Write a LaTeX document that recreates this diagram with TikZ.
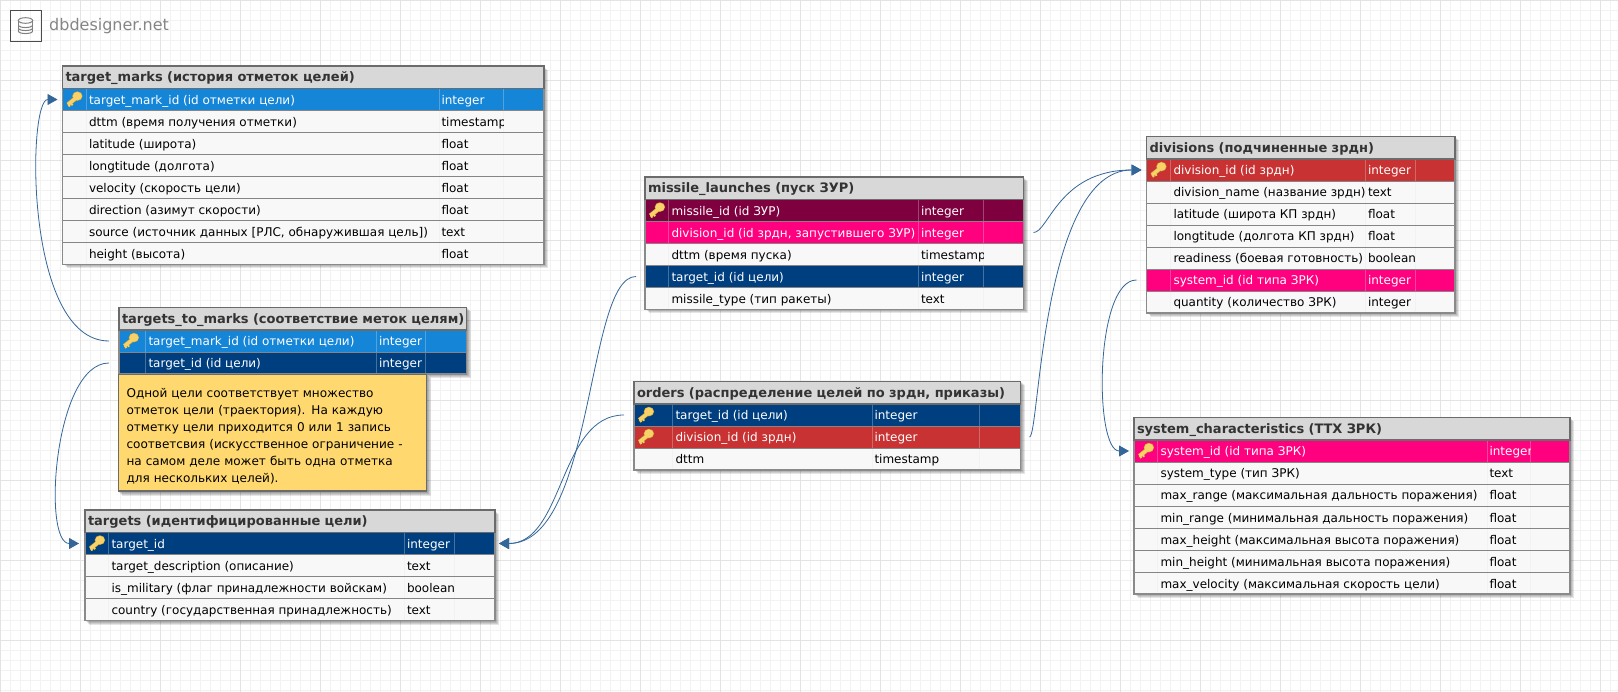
\documentclass[tikz,border=0pt]{standalone}
\usepackage{fontspec}
\setmainfont{DejaVu Sans}
\usepackage{tikz}
\usetikzlibrary{arrows.meta,backgrounds}

\definecolor{markblue}{HTML}{1585D8}
\definecolor{targetblue}{HTML}{003F7F}
\definecolor{divred}{HTML}{C83232}
\definecolor{syspink}{HTML}{FF007F}
\definecolor{launchwine}{HTML}{7F003F}
\definecolor{rowplain}{HTML}{F8F8F8}
\definecolor{headgray}{HTML}{D8D8D8}
\definecolor{framegray}{HTML}{8A8A8A}
\definecolor{notegold}{HTML}{FFD970}
\definecolor{linkblue}{HTML}{336699}
\definecolor{keygold}{HTML}{F6D268}
\definecolor{keyedge}{HTML}{C9A038}

\tikzset{
  headbox/.style={fill=headgray,text=black!80,inner xsep=3pt,inner ysep=0pt,outer sep=0pt,
    minimum height=22.5pt,text height=10.5pt,text depth=1.5pt,align=left,
    font=\fontsize{13}{15}\selectfont\bfseries},
  rowbox/.style={inner sep=0pt,outer sep=0pt,minimum height=22pt,anchor=north west},
  celltext/.style={inner sep=0pt,outer sep=0pt,anchor=base west,font=\fontsize{12}{15}\selectfont},
  rowline/.style={draw=black!48,line width=0.8pt},
  tableframe/.style={draw=framegray,line width=1.2pt},
  headframe/.style={draw=black!58,line width=1.4pt},
  softshadow/.style={fill=black,opacity=.10},
  notebox/.style={fill=notegold,draw=black!58,line width=1.1pt,anchor=north west,align=left,
    inner xsep=8.5pt,inner ysep=5pt,text width=291pt,minimum height=116.5pt,
    font=\fontsize{12.05}{17}\selectfont},
  reflink/.style={draw=linkblue,line width=0.8pt,-{Triangle[length=10pt,width=11pt,fill=linkblue]}},
  keyicon/.pic={
    \draw[keyedge,line width=4.6pt] (2,-1.5) -- (-6,5);
    \draw[keyedge,line width=2.2pt] (-3.2,3) -- (-1.5,5.8);
    \draw[keyedge,line width=2.2pt] (-5.8,4.6) -- (-4.2,7);
    \fill[keyedge] (3.4,-3.4) ellipse (5.2 and 4.8);
    \draw[keygold,line width=3.4pt] (2,-1.5) -- (-6,5);
    \draw[keygold,line width=1.4pt] (-3.2,3) -- (-1.5,5.8);
    \draw[keygold,line width=1.4pt] (-5.8,4.6) -- (-4.2,7);
    \fill[keygold] (3.4,-3.4) ellipse (4.6 and 4.2);
  },
}

% name, left, header bottom, right, key column end, type column start, type column end, title, rows
\newcommand{\dbtable}[9]{
  \pgfmathsetmacro\headw{#4-#2-6}
  \pgfmathsetmacro\rowsw{#4-#2}
  \node[headbox,anchor=south west,text width=\headw pt] (#1) at (#2,#3) {\mbox{#8}};
  \foreach \rowfill/\rowtxt/\rowkey/\rowname/\rowtype [count=\n] in {#9}{
    \pgfmathsetmacro\rowy{#3+22*(\n-1)}
    \pgfmathsetmacro\rowb{#3+22*\n}
    \pgfmathsetmacro\baseY{#3+22*(\n-1)+16}
    \pgfmathsetmacro\keyx{#2+11.5}
    \pgfmathsetmacro\keyy{#3+22*(\n-1)+11}
    \node[rowbox,fill=\rowfill,minimum width=\rowsw pt] (#1\n) at (#2,\rowy) {};
    \draw[draw=\rowfill!72!white!97!black,line width=0.8pt] (#5,\rowy) -- (#5,\rowb);
    \draw[draw=\rowfill!72!white!97!black,line width=0.8pt] (#6,\rowy) -- (#6,\rowb);
    \draw[draw=\rowfill!72!white!97!black,line width=0.8pt] (#7,\rowy) -- (#7,\rowb);
    \draw[rowline] (#1\n.north west) -- (#1\n.north east);
    \ifnum\rowkey=1 \pic at (\keyx,\keyy) {keyicon}; \fi
    \node[celltext,text=\rowtxt] (#1\n name) at (#5+3,\baseY) {\rowname};
    \begin{scope}
      \clip (#6,\rowy) rectangle (#7,\rowb);
      \node[celltext,text=\rowtxt] (#1\n type) at (#6+2.5,\baseY) {\rowtype};
    \end{scope}
    \xdef\lastrow{\n}
  }
  \draw[tableframe] (#1.north west) rectangle (#1\lastrow.south east);
  \draw[headframe] (#1.south west) rectangle (#1.north east);
  \softshadow{#1.north west}{#1\lastrow.south east}
}

\newcommand{\softshadow}[2]{
  \begin{pgfonlayer}{background}
    \foreach \s in {1,2,3,4}{
      \fill[softshadow] ([xshift=\s pt,yshift=-\s pt]#1) rectangle ([xshift=\s pt,yshift=-\s pt]#2);
    }
  \end{pgfonlayer}
}

\begin{document}
\begin{tikzpicture}[x=1pt,y=-1pt]
  \useasboundingbox (0,0) rectangle (1618,692);
  \begin{pgfonlayer}{background}
    \begin{scope}
      \clip (0,0) rectangle (1618,692);
      \fill[white] (0,0) rectangle (1618,692);
      \foreach \gx in {0,10,...,1610}{ \draw[black!5,line width=1pt] (\gx+.5,0) -- (\gx+.5,692); }
      \foreach \gy in {0,10,...,690}{ \draw[black!5,line width=1pt] (0,\gy+.5) -- (1618,\gy+.5); }
      \foreach \gx in {0,80,...,1600}{ \draw[black!11,line width=1pt] (\gx+.5,0) -- (\gx+.5,692); }
      \foreach \gy in {0,80,...,640}{ \draw[black!11,line width=1pt] (0,\gy+.5) -- (1618,\gy+.5); }
    \end{scope}
  \end{pgfonlayer}

  % logo
  \node[draw=black!70,line width=1pt,minimum size=31pt,inner sep=0pt] (logo) at (26,26) {};
  \draw[black!50,line width=1pt] (25.5,20.5) ellipse (7.2 and 2.8);
  \draw[black!50,line width=1pt] (18.3,20.5) -- (18.3,31);
  \draw[black!50,line width=1pt] (32.7,20.5) -- (32.7,31);
  \foreach \dy in {25,28,31}{
    \draw[black!50,line width=1pt] (18.3,\dy) .. controls (18.3,\dy+3.4) and (32.7,\dy+3.4) .. (32.7,\dy);
  }
  \node[anchor=base west,inner sep=0pt,text=black!48,font=\fontsize{16}{20}\selectfont] (brand) at (49,31) {dbdesigner.net};

  \dbtable{marks}{62.5}{88.5}{544}{86}{439}{503}{target\_marks (история отметок целей)}{
    markblue/white/1/{target\_mark\_id (id отметки цели)}/integer,
    rowplain/black/0/{dttm (время получения отметки)}/timestamp,
    rowplain/black/0/{latitude (широта)}/float,
    rowplain/black/0/{longtitude (долгота)}/float,
    rowplain/black/0/{velocity (скорость цели)}/float,
    rowplain/black/0/{direction (азимут скорости)}/float,
    rowplain/black/0/{source (источник данных [РЛС, обнаружившая цель])}/text,
    rowplain/black/0/{height (высота)}/float}

  \dbtable{tomarks}{119}{330}{466.5}{145.5}{376.5}{425.5}{targets\_to\_marks (соответствие меток целям)}{
    markblue/white/1/{target\_mark\_id (id отметки цели)}/integer,
    targetblue/white/0/{target\_id (id цели)}/integer}

  \node[notebox] (note) at (117.5,374) {\rule{0pt}{15.5pt}Одной цели соответствует множество\\
    отметок цели (траектория). На каждую\\
    отметку цели приходится 0 или 1 запись\\
    соответсвия (искусственное ограничение -\\
    на самом деле может быть одна отметка\\
    для нескольких целей).};
  \softshadow{note.north west}{note.south east}

  \dbtable{targets}{85}{532.5}{495}{108.5}{404.5}{454.5}{targets (идентифицированные цели)}{
    targetblue/white/1/{target\_id}/integer,
    rowplain/black/0/{target\_description (описание)}/text,
    rowplain/black/0/{is\_military (флаг принадлежности войскам)}/boolean,
    rowplain/black/0/{country (государственная принадлежность)}/text}

  \dbtable{launches}{645}{199.5}{1023.5}{668.5}{918.5}{983.5}{missile\_launches (пуск ЗУР)}{
    launchwine/white/1/{missile\_id (id ЗУР)}/integer,
    syspink/white/0/{division\_id (id зрдн, запустившего ЗУР)}/integer,
    rowplain/black/0/{dttm (время пуска)}/timestamp,
    targetblue/white/0/{target\_id (id цели)}/integer,
    rowplain/black/0/{missile\_type (тип ракеты)}/text}

  \dbtable{orders}{634}{404}{1020.5}{672.5}{872}{979}{orders (распределение целей по зрдн, приказы)}{
    targetblue/white/1/{target\_id (id цели)}/integer,
    divred/white/1/{division\_id (id зрдн)}/integer,
    rowplain/black/0/{dttm}/timestamp}

  \dbtable{divisions}{1146.5}{159}{1455}{1170.5}{1365.5}{1415}{divisions (подчиненные зрдн)}{
    divred/white/1/{division\_id (id зрдн)}/integer,
    rowplain/black/0/{division\_name (название зрдн)}/text,
    rowplain/black/0/{latitude (широта КП зрдн)}/float,
    rowplain/black/0/{longtitude (долгота КП зрдн)}/float,
    rowplain/black/0/{readiness (боевая готовность)}/boolean,
    syspink/white/0/{system\_id (id типа ЗРК)}/integer,
    rowplain/black/0/{quantity (количество ЗРК)}/integer}

  \dbtable{systems}{1134}{440}{1570}{1157.5}{1487}{1530.5}{system\_characteristics (ТТХ ЗРК)}{
    syspink/white/1/{system\_id (id типа ЗРК)}/integer,
    rowplain/black/0/{system\_type (тип ЗРК)}/text,
    rowplain/black/0/{max\_range (максимальная дальность поражения)}/float,
    rowplain/black/0/{min\_range (минимальная дальность поражения)}/float,
    rowplain/black/0/{max\_height (максимальная высота поражения)}/float,
    rowplain/black/0/{min\_height (минимальная высота поражения)}/float,
    rowplain/black/0/{max\_velocity (максимальная скорость цели)}/float}

  % references
  \draw[reflink] ([xshift=-10pt]tomarks1.west) .. controls +(-85,0) and +(-30,0) .. ([xshift=-5pt]marks1.west);
  \draw[reflink] ([xshift=-10pt]tomarks2.west) .. controls +(-55,0) and +(-37,0) .. ([xshift=-6pt]targets1.west);
  \draw[reflink] ([xshift=-9pt]launches4.west) .. controls +(-50,0) and +(96,0) .. ([xshift=4pt]targets1.east);
  \draw[reflink] ([xshift=-10pt]orders1.west) .. controls +(-65,0) and +(65,0) .. ([xshift=4pt]targets1.east);
  \draw[reflink] ([xshift=10pt]launches2.east) .. controls +(15,0) and +(-83,0) .. ([xshift=-5pt]divisions1.west);
  \draw[reflink] ([xshift=9pt]orders2.east) .. controls +(10,0) and +(-100,0) .. ([xshift=-5pt]divisions1.west);
  \draw[reflink] ([xshift=-10pt]divisions6.west) .. controls +(-42,0) and +(-35,0) .. ([xshift=-5pt]systems1.west);
\end{tikzpicture}
\end{document}
